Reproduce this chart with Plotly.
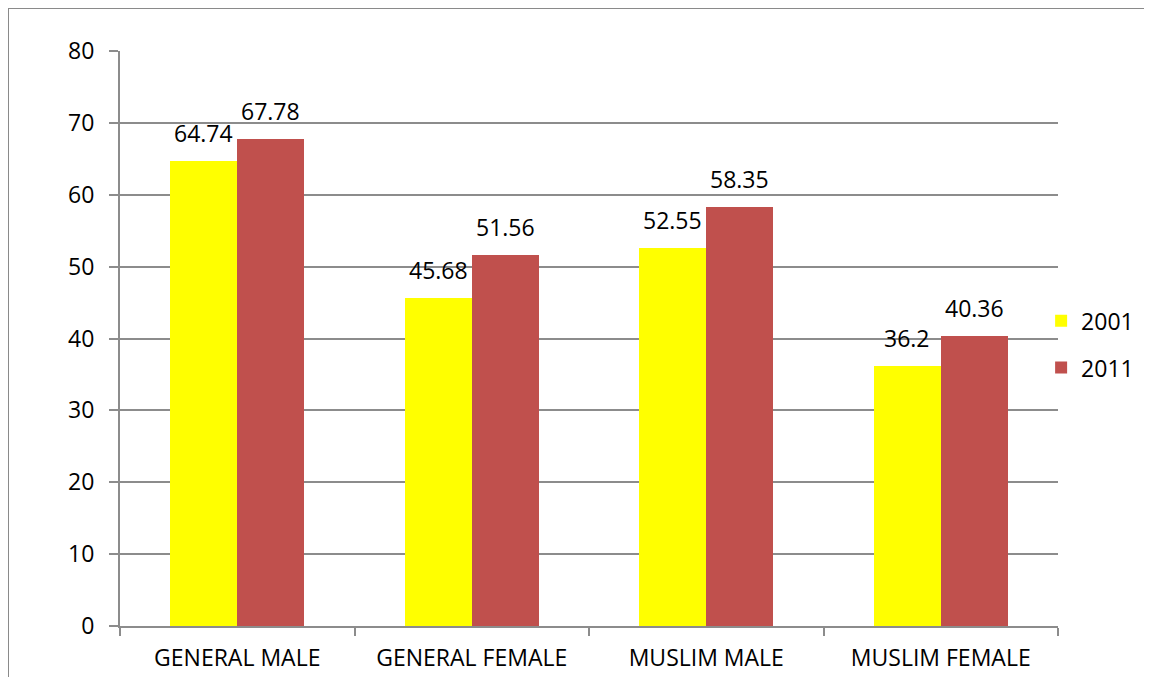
import plotly.graph_objects as go

categories = ["GENERAL MALE", "GENERAL FEMALE", "MUSLIM MALE", "MUSLIM FEMALE"]
years = ["2001", "2011"]
values_2001 = [64.74, 45.68, 52.55, 36.2]
values_2011 = [67.78, 51.56, 58.35, 40.36]
colors = ["#FFFF00", "#C0504D"]

FONT = "Open Sans"
FS = 23
bw = 0.285

L, R, T, B = 112, 102, 43, 50

xs = list(range(len(categories)))
fig = go.Figure()
series = [values_2001, values_2011]
offsets = [-bw, 0]
for yr, vals, col, off in zip(years, series, colors, offsets):
    fig.add_trace(go.Bar(
        x=xs, y=vals, name=yr, marker=dict(color=col, line=dict(width=0)),
        width=bw, offset=off, legendgroup=yr,
    ))
    for x, v in zip(xs, vals):
        fig.add_annotation(x=x + off + bw / 2, y=v, xref="x", yref="y",
                           text=f"{v:g}", showarrow=False, yanchor="bottom",
                           yshift=10, font=dict(family=FONT, size=FS, color="black"))

grid = "#8c8c8c"
border = "#8a8a8a"
fig.update_layout(
    width=1152, height=677,
    margin=dict(l=L, r=R, t=T, b=B),
    paper_bgcolor="white", plot_bgcolor="white",
    font=dict(family=FONT, size=FS, color="black"),
    showlegend=True,
    legend=dict(x=0.982, xanchor="left", y=0.49, yanchor="middle",
                font=dict(family=FONT, size=FS), tracegroupgap=14,
                bgcolor="rgba(0,0,0,0)", itemwidth=30),
    bargap=0,
    xaxis=dict(
        range=[-0.5, len(categories) - 0.5],
        tickmode="array", tickvals=xs, ticktext=categories,
        ticks="outside", ticklen=10, tickcolor="rgba(0,0,0,0)",
        showgrid=False, zeroline=False,
        showline=True, linecolor=grid, linewidth=2,
        minor=dict(tickmode="array", tickvals=[i - 0.5 for i in range(len(categories) + 1)],
                   ticks="outside", ticklen=8, tickcolor=grid, tickwidth=2, showgrid=False),
        tickfont=dict(family=FONT, size=FS),
    ),
    yaxis=dict(
        range=[0, 80], dtick=10, tick0=0,
        ticks="outside", ticklen=9, tickcolor=grid, tickwidth=2,
        showgrid=True, gridcolor=grid, gridwidth=1.5,
        zeroline=False, showline=True, linecolor=grid, linewidth=2,
        ticklabelstandoff=10,
        tickfont=dict(family=FONT, size=FS),
    ),
    shapes=[
        dict(type="line", xref="paper", yref="paper",
             x0=-L / 938, x1=-L / 938, y0=-0.3, y1=1 + T / 576,
             line=dict(color=border, width=2), layer="below"),
        dict(type="line", xref="paper", yref="paper",
             x0=-L / 938, x1=1.3, y0=1 + T / 576, y1=1 + T / 576,
             line=dict(color=border, width=2), layer="below"),
    ],
)

fig.write_html("out.html")
